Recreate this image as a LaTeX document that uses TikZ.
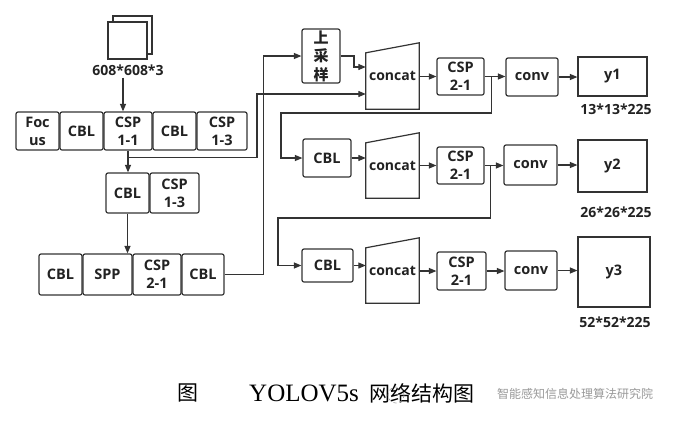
\documentclass[tikz,border=0pt]{standalone}
\usepackage{fontspec}
\usetikzlibrary{arrows.meta,calc}
\newfontfamily\dfont{Open Sans}
\newfontfamily\cjk{Noto Sans CJK SC}
\newfontfamily\capfont{Liberation Serif}
\definecolor{lc}{HTML}{333333}
\definecolor{tc}{HTML}{222222}
\definecolor{wm}{HTML}{9A9A9A}
\tikzset{
  blk/.style={draw=lc, line width=1.2pt, rounded corners=2pt, inner sep=0pt, align=center,
     text=tc, font=\dfont\bfseries\fontsize{14.5}{18}\selectfont},
  sq/.style={draw=lc, line width=1.2pt, inner sep=0pt, align=center,
     text=tc, font=\dfont\bfseries\fontsize{14.5}{18}\selectfont},
  cc/.style={inner sep=0pt, minimum width=53pt, text=tc, font=\dfont\bfseries\fontsize{14}{18}\selectfont},
  shp/.style={draw=lc, line width=1.2pt, line join=miter},
  lab/.style={inner sep=0pt, text=tc, font=\dfont\bfseries\fontsize{14}{16}\selectfont},
  arr/.style={draw=lc, line width=1.1pt, -{Triangle[length=7.5pt,width=6pt]}},
}
\begin{document}
\begin{tikzpicture}[x=1pt,y=-1pt]
\useasboundingbox (0,0) rectangle (674,424);
\fill[white] (0,0) rectangle (674,424);
% input image
\draw[shp,fill=white] (113,16) rectangle (152,54);
\draw[shp,fill=white] (108,22) rectangle (147,59);
\node[lab] (inlabel) at (128,70) {608*608*3};
% row 1
\node[blk, minimum width=43pt, minimum height=38pt] (focus) at (37.5,131) {Foc\\us};
\node[blk, minimum width=43pt, minimum height=38pt] (cbla) at (81.5,131) {CBL};
\node[blk, minimum width=48pt, minimum height=38pt] (csp11) at (128,131) {CSP\\1-1};
\node[blk, minimum width=43pt, minimum height=38pt] (cblb) at (174.5,131) {CBL};
\node[blk, minimum width=50pt, minimum height=38pt] (csp13a) at (222,131) {CSP\\1-3};
% row 2
\node[blk, minimum width=43pt, minimum height=40pt] (cblc) at (127.5,193) {CBL};
\node[blk, minimum width=49pt, minimum height=40pt] (csp13b) at (174.5,193) {CSP\\1-3};
% row 3
\node[blk, minimum width=43pt, minimum height=41pt] (cbld) at (60.5,274.5) {CBL};
\node[blk, minimum width=49pt, minimum height=41pt] (spp) at (107.5,274.5) {SPP};
\node[blk, minimum width=48pt, minimum height=41pt] (csp21a) at (157,274.5) {CSP\\2-1};
\node[blk, minimum width=42pt, minimum height=41pt] (cble) at (203,274.5) {CBL};
% upsample
\node[blk, minimum width=38pt, minimum height=54pt, font=\cjk\bfseries\fontsize{15}{18.5}\selectfont] (up) at (321,56) {上\\采\\样};
% concats
\node[cc, minimum height=66pt] (c1) at (392.5,76) {\raisebox{-4pt}{concat}};
\node[cc, minimum height=65pt] (c2) at (392.5,165.5) {\raisebox{-4pt}{concat}};
\node[cc, minimum height=65pt] (c3) at (392.5,270.5) {\raisebox{-4pt}{concat}};
\foreach \c in {c1,c2,c3}{
  \draw[shp] ([yshift=-10pt]\c.north west) -- (\c.north east) -- (\c.south east) -- (\c.south west) -- cycle;
}
% right column rows
\node[blk, minimum width=47pt, minimum height=37pt] (csp21b) at (460.5,76.5) {CSP\\2-1};
\node[blk, minimum width=52pt, minimum height=38pt] (conv1) at (532,77) {conv};
\node[sq, minimum width=69pt, minimum height=39pt] (y1) at (612.5,76.5) {y1};
\node[lab] (l1) at (616,109) {13*13*225};

\node[blk, minimum width=48pt, minimum height=38pt] (cblf) at (327,158) {CBL};
\node[blk, minimum width=47pt, minimum height=37pt] (csp21c) at (460.5,165.5) {CSP\\2-1};
\node[blk, minimum width=53pt, minimum height=40pt] (conv2) at (530.5,165) {conv};
\node[sq, minimum width=69pt, minimum height=52pt] (y2) at (612.5,166) {y2};
\node[lab] (l2) at (616,212) {26*26*225};

\node[blk, minimum width=51pt, minimum height=33pt] (cblg) at (327.5,265.5) {CBL};
\node[blk, minimum width=49pt, minimum height=38pt] (csp21d) at (461.5,271) {CSP\\2-1};
\node[blk, minimum width=52pt, minimum height=39pt] (conv3) at (531,270.5) {conv};
\node[sq, minimum width=72pt, minimum height=70pt] (y3) at (614,272) {y3};
\node[lab] (l3) at (615,322) {52*52*225};

% connectors
\draw[arr] ([xshift=-5pt,yshift=-2pt]inlabel.south) -- ([xshift=-5pt]inlabel.south |- csp11.north);
\draw[arr] (csp11.south) -- (csp11.south |- cblc.north);
\coordinate (k1) at (257,94);
\draw[arr] ([yshift=-7pt]csp11.south) -| (k1) -- (k1 -| c1.west);
\draw[arr] (cblc.south) -- (cblc.south |- spp.north);
\draw[arr] (cble.east) -- ++(39,0) |- (up.west);
\coordinate (k3) at (354,67);
\draw[arr] (up.east) -| (k3) -- (k3 -| c1.west);
\draw[arr] (c1.east |- csp21b) -- (csp21b.west);
\draw[arr] (csp21b.east) -- (csp21b.east -| conv1.west);
\draw[arr] (conv1.east) -- (conv1.east -| y1.west);
\coordinate (k4) at (281,113);
\draw[arr] ([xshift=7pt]csp21b.east) |- (k4) |- (cblf.west);
\draw[arr] (cblf.east) -- (cblf.east -| c2.west);
\draw[arr] (c2.east |- csp21c) -- (csp21c.west);
\draw[arr] (csp21c.east) -- (csp21c.east -| conv2.west);
\draw[arr] (conv2.east) -- (conv2.east -| y2.west);
\coordinate (k5) at (278,218);
\draw[arr] ([xshift=6pt]csp21c.east) |- (k5) |- (cblg.west);
\draw[arr] (cblg.east) -- (cblg.east -| c3.west);
\draw[arr] (c3.east |- csp21d) -- (csp21d.west);
\draw[arr] (csp21d.east) -- (csp21d.east -| conv3.west);
\draw[arr] (conv3.east) -- (conv3.east -| y3.west);

% caption
\node[inner sep=0pt, font=\cjk\fontsize{21}{22}\selectfont] (cap1) at (188,393) {图};
\node[inner sep=0pt, anchor=west, font=\capfont\fontsize{25}{26}\selectfont] (cap2) at (249,393) {YOLOV5s};
\node[inner sep=0pt, anchor=west, font=\cjk\fontsize{21}{22}\selectfont] (cap3) at (369,393) {网络结构图};
% watermark
\draw[wm, dashed, line width=0.6pt] (396,395) circle (8);
\node[inner sep=0pt, anchor=west, text=wm, font=\cjk\fontsize{12}{14}\selectfont] (wmk) at (497,394) {智能感知信息处理算法研究院};
\end{tikzpicture}
\end{document}
